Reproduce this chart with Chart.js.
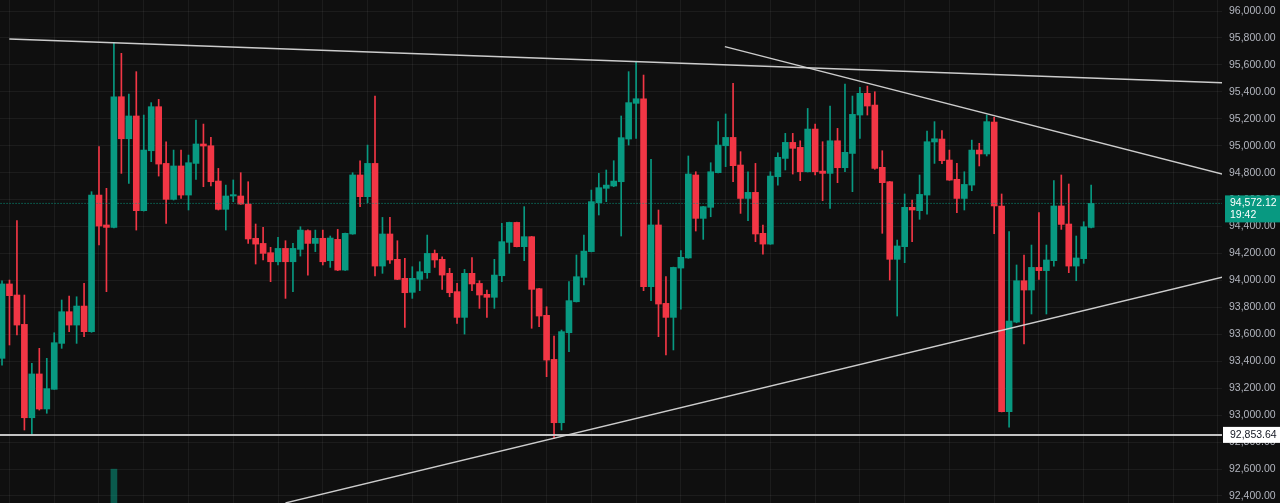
<!DOCTYPE html>
<html><head><meta charset="utf-8">
<script src="https://cdn.jsdelivr.net/npm/chart.js@4.4.1/dist/chart.umd.min.js"></script>
<style>html,body{margin:0;padding:0;background:#0f0f0f;overflow:hidden}canvas{display:block}</style>
</head><body>
<canvas id="c" width="1280" height="503"></canvas>
<script>
// ---- candle data (OHLC), one entry per candle, left to right ----
const opens = [93422,93974,93892,93674,92981,93306,93046,93192,93533,93768,93669,93810,93620,94634,94412,94394,95364,95052,95221,94518,
94963,95290,94869,94602,94850,94634,94869,95013,95000,94738,94528,94627,94627,94567,94313,94275,94206,94139,94238,94139,
94231,94370,94275,94313,94147,94305,94077,94345,94783,94622,94869,94107,94345,94157,94016,93912,94008,94058,94201,94157,
94053,93917,93726,94053,93978,93897,93875,94035,94283,94431,94251,94325,93939,93741,93414,92944,93612,93842,94023,94214,
94577,94684,94701,94733,95050,95315,95349,93954,94412,93830,93726,94092,94167,94783,94461,94543,94800,95000,95062,94857,
94609,94654,94350,94270,94770,94906,95025,94988,94807,95124,94812,94795,95037,94837,94943,95228,95389,95302,94840,94733,
94157,94251,94543,94518,94634,95028,95050,94894,94751,94609,94708,94968,94939,95176,94553,93026,93691,93998,93929,94097,
94073,94147,94553,94419,94107,94162,94394];
const highs = [93998,94003,94444,93892,93385,93496,93422,93612,93855,93884,93879,93978,94659,94993,94684,95765,95686,95384,95550,95228,
95320,95344,95030,94968,94968,94931,95191,95161,95062,94832,94708,94746,94800,94733,94419,94394,94246,94320,94295,94275,
94399,94376,94374,94374,94330,94379,94352,94800,94889,95005,95369,94468,94468,94295,94164,94102,94139,94337,94226,94176,
94090,93978,94082,94169,93998,93929,94157,94424,94433,94433,94548,94327,93941,93805,93588,93632,93991,94189,94337,94671,
94795,94820,94889,95221,95550,95620,95525,94899,94523,94028,94099,94221,94924,94807,94550,94874,95179,95236,95463,94956,
94807,94869,94412,94807,94948,95092,95092,95037,95277,95161,95030,95295,95129,95458,95369,95433,95443,95401,94963,94735,
94300,94642,94597,94783,95109,95179,95112,94968,94869,94807,95042,95018,95228,95211,94642,94362,94115,94189,94263,94503,
94263,94741,94783,94716,94330,94436,94708];
const lows = [93372,93521,93595,92890,92853.64,93038,93014,93192,93496,93620,93533,93583,93615,94263,93917,94390,94795,94721,94374,94515,
94882,94775,94424,94597,94609,94523,94751,94696,94701,94523,94374,94585,94565,94275,94122,94152,93991,94115,93867,93917,
94181,94040,94214,94115,94097,94073,94075,94343,94548,94577,94033,94053,94127,94006,93652,93867,93924,94016,94097,93934,
93879,93682,93602,93924,93793,93726,93793,93991,94201,94249,94147,93645,93657,93286,92828,92890,93471,93840,93966,94212,
94486,94585,94696,94330,95005,95055,93924,93850,93583,93447,93484,93786,94165,94367,94305,94473,94798,94845,94733,94498,
94444,94288,94196,94268,94708,94820,94790,94741,94805,94783,94592,94535,94726,94807,94659,95055,95228,94825,94350,94003,
93736,94132,94288,94454,94493,94869,94867,94743,94503,94523,94666,94850,94924,94347,93024,92910,93686,93528,93751,94008,
93751,94107,94379,94058,93998,94127,94390];
const closes = [93974,93887,93669,92981,93306,93046,93197,93538,93768,93669,93810,93620,94634,94404,94394,95364,95052,95221,94518,94968,
95290,94864,94602,94850,94634,94874,95013,94998,94733,94528,94627,94637,94567,94308,94270,94201,94139,94238,94139,94238,
94374,94275,94313,94139,94315,94077,94350,94783,94622,94869,94107,94345,94152,94008,93909,94016,94065,94201,94152,94040,
93909,93726,94053,93974,93892,93875,94040,94288,94431,94251,94325,93934,93736,93409,92944,93620,93850,94028,94218,94585,
94689,94708,94738,95060,95320,95349,93954,94412,93825,93726,94097,94172,94790,94461,94548,94807,95005,95062,94852,94609,
94654,94345,94270,94775,94914,95025,94981,94807,95124,94807,94795,95037,94837,94951,95233,95389,95295,94832,94726,94157,
94256,94543,94523,94639,95030,95052,94889,94745,94609,94713,94968,94939,95179,94553,93026,93699,93998,93929,94097,94073,
94152,94553,94416,94107,94167,94399,94572.12];

// ---- volume (only the visible spike) ----
const volumeIndex = [15];
const volumeValue = [1480];

// ---- drawn lines: [x in candle units], [price] ----
const upperLineX = [0.98, 164];  const upperLineY = [95792, 95467];
const fallLineX  = [96.9, 164];  const fallLineY  = [95735, 94784];
const riseLineX  = [38.0, 164];  const riseLineY  = [92348, 94030];
const levelPrice = 92853.64;
const lastPrice  = 94572.12;
const countdown  = '19:42';

// ---- axis ticks ----
const priceTicks = [92400,92600,92800,93000,93200,93400,93600,93800,94000,94200,94400,94600,94800,95000,95200,95400,95600,95800,96000];

const GREEN = '#089981', RED = '#f23645';
const fmt = v => v.toLocaleString('en-US', {minimumFractionDigits:2, maximumFractionDigits:2});
const idx = opens.map((_, i) => i);
const up = i => closes[i] >= opens[i];
const candleColor = ctx => up(ctx.dataIndex) ? GREEN : RED;
const pts = (xs, ys) => xs.map((x, k) => ({x, y: ys[k]}));
const noPad = s => { s.paddingTop = 0; s.paddingBottom = 0; s.paddingLeft = 0; s.paddingRight = 0; };

const overlay = {
  id: 'overlay',
  beforeDraw(chart) {
    const c = chart.ctx; c.save(); c.fillStyle = '#0f0f0f'; c.fillRect(0, 0, chart.width, chart.height); c.restore();
  },
  afterDraw(chart) {
    const c = chart.ctx, ys = chart.scales.y, L = Math.round(chart.chartArea.right) + 1, W = chart.width - L;
    c.save();
    c.font = '10.5px "Liberation Sans", Arial, sans-serif';
    c.textBaseline = 'middle'; c.textAlign = 'left';
    const py = ys.getPixelForValue(lastPrice);
    c.fillStyle = GREEN; c.fillRect(L + 2, py - 8, W - 2, 27);
    c.fillStyle = '#ffffff';
    c.fillText(fmt(lastPrice), L + 7, py);
    c.fillText(countdown, L + 7, py + 12);
    const hy = ys.getPixelForValue(levelPrice);
    c.fillStyle = '#ffffff'; c.fillRect(L, hy - 8, W, 16);
    c.fillStyle = '#131722'; c.fillText(fmt(levelPrice), L + 7, hy);
    c.restore();
  }
};

const lineDs = (data, color, width, dash) => ({
  type: 'line', data, borderColor: color, borderWidth: width, borderDash: dash || [],
  pointRadius: 0, fill: false, tension: 0, order: 0, yAxisID: 'y'
});

new Chart(document.getElementById('c'), {
  type: 'bar',
  data: {
    datasets: [
      lineDs(pts(upperLineX, upperLineY), 'rgba(215,215,215,0.95)', 1.6),
      lineDs(pts(fallLineX, fallLineY), 'rgba(215,215,215,0.95)', 1.3),
      lineDs(pts(riseLineX, riseLineY), 'rgba(215,215,215,0.95)', 1.3),
      lineDs(pts([-1, 170], [levelPrice, levelPrice]), 'rgba(205,205,205,0.95)', 2),
      lineDs(pts([-1, 170], [lastPrice, lastPrice]), GREEN, 1, [1, 2]),
      { label: 'body', data: idx.map(i => ({x: i, y: [opens[i], closes[i]]})), backgroundColor: candleColor,
        barThickness: 6, minBarLength: 1, grouped: false, borderWidth: 0, order: 1, yAxisID: 'y' },
      { label: 'wick', data: idx.map(i => ({x: i, y: [lows[i], highs[i]]})), backgroundColor: candleColor,
        barThickness: 1, grouped: false, borderWidth: 0, order: 2, yAxisID: 'y' },
      { label: 'volume', data: volumeIndex.map((x, k) => ({x, y: volumeValue[k]})), backgroundColor: 'rgba(8,153,129,0.55)',
        barThickness: 6, grouped: false, borderWidth: 0, order: 3, yAxisID: 'yv' }
    ]
  },
  options: {
    responsive: false, animation: false, devicePixelRatio: 1,
    layout: { padding: 0 },
    plugins: { legend: { display: false }, tooltip: { enabled: false } },
    scales: {
      x: {
        type: 'linear', min: -0.27, max: 163.54, offset: false,
        afterFit: s => { s.height = 0; noPad(s); },
        afterBuildTicks: s => { const t = []; for (let v = 4; v <= 163; v += 6) t.push({value: v}); s.ticks = t; },
        ticks: { display: false, padding: 0 },
        grid: { color: 'rgba(255,255,255,0.055)', drawTicks: false },
        border: { display: false }
      },
      y: {
        position: 'right', min: 92348, max: 96082,
        afterFit: s => { s.width = 58; noPad(s); },
        afterBuildTicks: s => { s.ticks = priceTicks.map(v => ({value: v})); },
        ticks: { color: '#b2b5be', padding: 7, font: { family: '"Liberation Sans", Arial, sans-serif', size: 10.5 },
          callback: v => fmt(v) },
        grid: { color: 'rgba(255,255,255,0.055)', drawTicks: false },
        border: { display: false }
      },
      yv: { display: false, min: 0, max: 22000 }
    }
  },
  plugins: [overlay]
});
</script>
</body></html>
